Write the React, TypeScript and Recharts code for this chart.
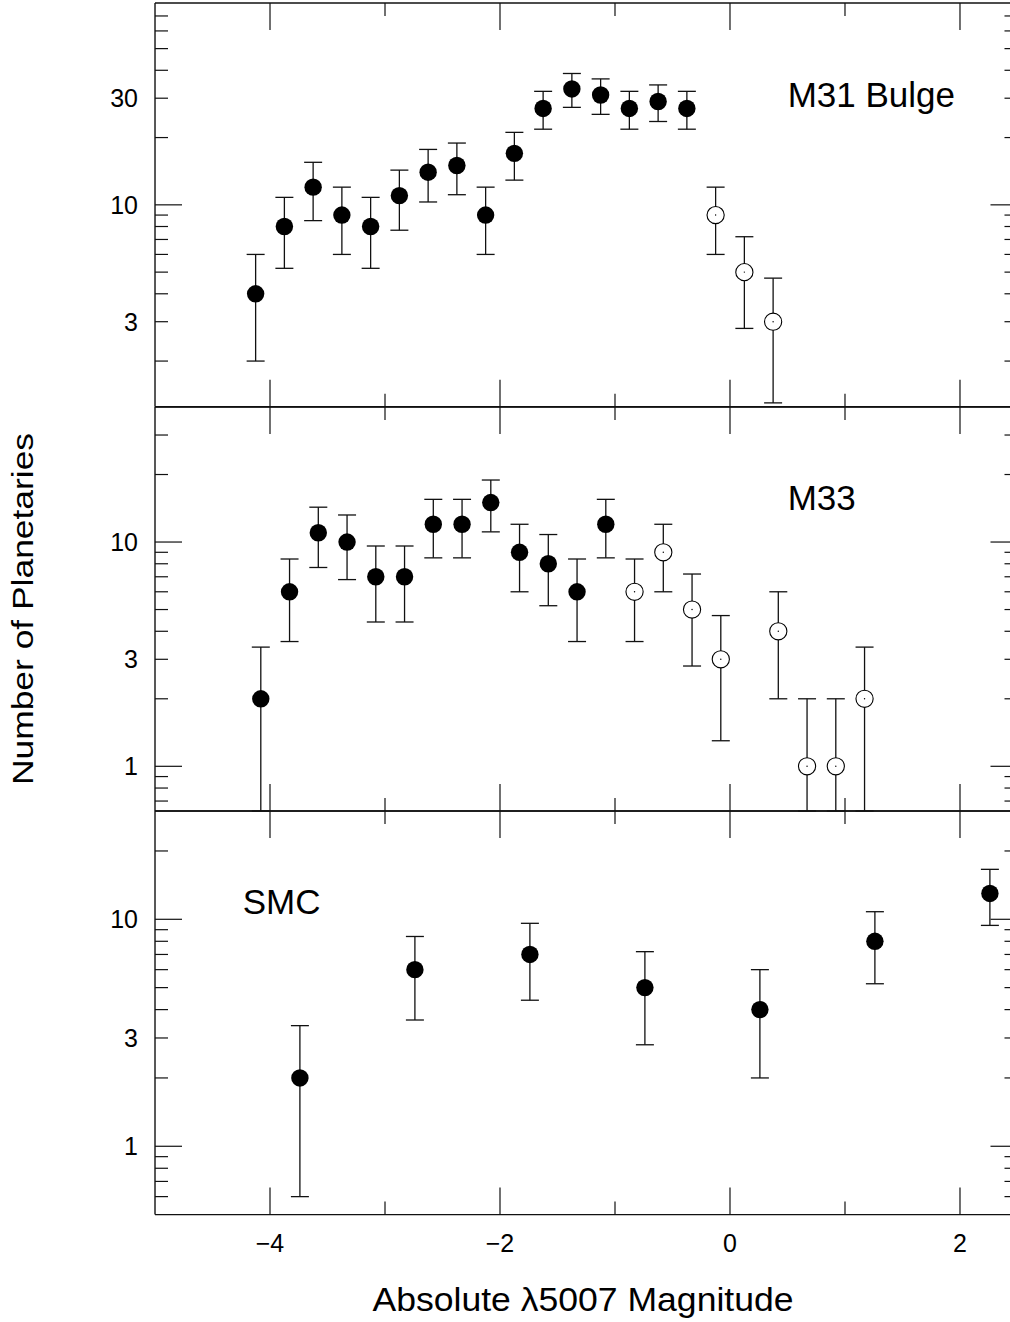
import { ScatterChart, Scatter, XAxis, YAxis, ErrorBar } from "recharts";

const FONT = '"Liberation Sans", Arial, Helvetica, sans-serif';
const INK = "#111";

// M31 bulge: bin centres (mag), counts, 1-sigma error, open = incomplete bins
const m31Mag = [-4.125, -3.875, -3.625, -3.375, -3.125, -2.875, -2.625, -2.375, -2.125, -1.875, -1.625, -1.375, -1.125, -0.875, -0.625, -0.375, -0.125, 0.125, 0.375];
const m31N = [4, 8, 12, 9, 8, 11, 14, 15, 9, 17, 27, 33, 31, 27, 29, 27, 9, 5, 3];
const m31Err = [2, 2.8, 3.5, 3, 2.8, 3.3, 3.7, 3.9, 3, 4.1, 5.2, 5.7, 5.6, 5.2, 5.4, 5.2, 3, 2.2, 1.7];
const m31Open = [0, 0, 0, 0, 0, 0, 0, 0, 0, 0, 0, 0, 0, 0, 0, 0, 1, 1, 1];

// M33
const m33Mag = [-4.08, -3.83, -3.58, -3.33, -3.08, -2.83, -2.58, -2.33, -2.08, -1.83, -1.58, -1.33, -1.08, -0.83, -0.58, -0.33, -0.08, 0.42, 0.67, 0.92, 1.17];
const m33N = [2, 6, 11, 10, 7, 7, 12, 12, 15, 9, 8, 6, 12, 6, 9, 5, 3, 4, 1, 1, 2];
const m33Err = [1.4, 2.4, 3.3, 3.2, 2.6, 2.6, 3.5, 3.5, 3.9, 3, 2.8, 2.4, 3.5, 2.4, 3, 2.2, 1.7, 2, 1, 1, 1.4];
const m33Open = [0, 0, 0, 0, 0, 0, 0, 0, 0, 0, 0, 0, 0, 1, 1, 1, 1, 1, 1, 1, 1];

// SMC
const smcMag = [-3.74, -2.74, -1.74, -0.74, 0.26, 1.26, 2.26];
const smcN = [2, 6, 7, 5, 4, 8, 13];
const smcErr = [1.4, 2.4, 2.6, 2.2, 2, 2.8, 3.6];
const smcOpen = [0, 0, 0, 0, 0, 0, 0];

const xDomain = [-5, 2.5];
const xTicks = [-4, -3, -2, -1, 0, 1, 2];
const xLabelTicks = [-4, -2, 0, 2];

const m31Domain = [1.25, 80];
const m31Ticks = [2, 3, 4, 5, 6, 7, 8, 9, 10, 20, 30, 40, 50, 60, 70];
const m31Labels = [3, 10, 30];

const m33Domain = [0.632, 40];
const m33Ticks = [0.7, 0.8, 0.9, 1, 2, 3, 4, 5, 6, 7, 8, 9, 10, 20, 30];
const m33Labels = [1, 3, 10];

const smcDomain = [0.5, 30];
const smcTicks = [0.6, 0.7, 0.8, 0.9, 1, 2, 3, 4, 5, 6, 7, 8, 9, 10, 20];
const smcLabels = [1, 3, 10];

type Row = { x: number; y: number; err: number[] };

function buildRows(mag: number[], n: number[], err: number[], open: number[], yMin: number, wantOpen: boolean): Row[] {
  const rows: Row[] = [];
  mag.forEach((m, i) => {
    if ((open[i] === 1) !== wantOpen) return;
    // keep the lower whisker inside the log axis
    const lo = Math.min(err[i], n[i] - yMin);
    rows.push({ x: m, y: n[i], err: [lo, err[i]] });
  });
  return rows;
}

const fmtX = (v: number) => (v < 0 ? `\u2212${-v}` : `${v}`);
const isDecade = (v: number) => Math.abs(Math.log10(v) - Math.round(Math.log10(v))) < 1e-6;

function xTick(side: "top" | "bottom", labels: boolean) {
  return (p: any) => {
    const v = p.payload.value;
    const len = v % 2 === 0 ? 27 : 13;
    const dir = side === "bottom" ? -1 : 1;
    return (
      <g>
        <line x1={p.x} y1={p.y} x2={p.x} y2={p.y + dir * len} stroke={INK} strokeWidth={1.2} />
        {labels && xLabelTicks.includes(v) && (
          <text x={p.x} y={p.y + 37} textAnchor="middle" fontSize={25} fontFamily={FONT} fill="#000">
            {fmtX(v)}
          </text>
        )}
      </g>
    );
  };
}

function yTick(side: "left" | "right", labels: number[]) {
  return (p: any) => {
    const v = p.payload.value;
    const len = isDecade(v) ? 27 : 13;
    const dir = side === "left" ? 1 : -1;
    return (
      <g>
        <line x1={p.x} y1={p.y} x2={p.x + dir * len} y2={p.y} stroke={INK} strokeWidth={1.2} />
        {side === "left" && labels.includes(v) && (
          <text x={p.x - 17} y={p.y + 9} textAnchor="end" fontSize={25} fontFamily={FONT} fill="#000">
            {v}
          </text>
        )}
      </g>
    );
  };
}

const FilledDot = (p: any) => <circle cx={p.cx} cy={p.cy} r={8.7} fill="#000" />;
const OpenDot = (p: any) => (
  <g>
    <circle cx={p.cx} cy={p.cy} r={8.6} fill="#fff" stroke="#000" strokeWidth={1.1} />
    <circle cx={p.cx} cy={p.cy} r={0.7} fill="#000" />
  </g>
);

type PanelProps = {
  top: number;
  plotH: number;
  mt: number;
  mb: number;
  domain: number[];
  ticks: number[];
  labels: number[];
  mag: number[];
  n: number[];
  err: number[];
  open: number[];
  xLabels: boolean;
};

// axes are 1px thick boxes (zero-size axes are not drawn), margins compensate
function Panel({ top, plotH, mt, mb, domain, ticks, labels, mag, n, err, open, xLabels }: PanelProps) {
  const filled = buildRows(mag, n, err, open, domain[0], false);
  const hollow = buildRows(mag, n, err, open, domain[0], true);
  const axisLine = { stroke: INK, strokeWidth: 1.4 };
  return (
    <div style={{ position: "absolute", left: 0, top }}>
      <ScatterChart width={1030} height={plotH + mt + mb} margin={{ top: mt - 1, bottom: mb - 1, left: 154, right: 11.5 }}>
        <XAxis xAxisId="b" orientation="bottom" type="number" dataKey="x" domain={xDomain} allowDataOverflow
          ticks={xTicks} interval={0} height={1} tickSize={0} tickMargin={0} tickLine={false}
          axisLine={axisLine} tick={xTick("bottom", xLabels)} />
        <XAxis xAxisId="t" orientation="top" type="number" dataKey="x" domain={xDomain} allowDataOverflow
          ticks={xTicks} interval={0} height={1} tickSize={0} tickMargin={0} tickLine={false}
          axisLine={axisLine} tick={xTick("top", false)} />
        <YAxis yAxisId="l" orientation="left" type="number" dataKey="y" scale="log" domain={domain} allowDataOverflow
          ticks={ticks} interval={0} width={1} tickSize={0} tickMargin={0} tickLine={false}
          axisLine={axisLine} tick={yTick("left", labels)} />
        <YAxis yAxisId="r" orientation="right" type="number" dataKey="y" scale="log" domain={domain} allowDataOverflow
          ticks={ticks} interval={0} width={1} tickSize={0} tickMargin={0} tickLine={false}
          axisLine={axisLine} tick={yTick("right", [])} />
        <Scatter data={filled} xAxisId="b" yAxisId="l" shape={FilledDot} isAnimationActive={false}>
          <ErrorBar dataKey="err" direction="y" width={9} stroke={INK} strokeWidth={1.3} isAnimationActive={false} />
        </Scatter>
        {hollow.length > 0 && (
          <Scatter data={hollow} xAxisId="b" yAxisId="l" shape={OpenDot} isAnimationActive={false}>
            <ErrorBar dataKey="err" direction="y" width={9} stroke={INK} strokeWidth={1.3} isAnimationActive={false} />
          </Scatter>
        )}
      </ScatterChart>
    </div>
  );
}

export default function App() {
  return (
    <div style={{ position: "absolute", left: 0, top: 0, width: 1010, height: 1322, overflow: "hidden", background: "#fff" }}>
      <Panel top={0} plotH={403.7} mt={3} mb={2} domain={m31Domain} ticks={m31Ticks} labels={m31Labels}
        mag={m31Mag} n={m31N} err={m31Err} open={m31Open} xLabels={false} />
      <Panel top={404.7} plotH={404} mt={2} mb={2} domain={m33Domain} ticks={m33Ticks} labels={m33Labels}
        mag={m33Mag} n={m33N} err={m33Err} open={m33Open} xLabels={false} />
      <Panel top={808.7} plotH={403.6} mt={2} mb={60} domain={smcDomain} ticks={smcTicks} labels={smcLabels}
        mag={smcMag} n={smcN} err={smcErr} open={smcOpen} xLabels={true} />
      <svg width={1010} height={1322} style={{ position: "absolute", left: 0, top: 0, pointerEvents: "none" }}>
        <g fontFamily={FONT} fill="#000">
          <text x={787.7} y={106.7} fontSize={35}>M31 Bulge</text>
          <text x={787.7} y={510} fontSize={35}>M33</text>
          <text x={242.7} y={914} fontSize={35}>SMC</text>
          <text x={583} y={1311} fontSize={33.5} textAnchor="middle" textLength={421} lengthAdjust="spacingAndGlyphs">
            Absolute λ5007 Magnitude
          </text>
          <text transform="translate(32.5,609) rotate(-90)" fontSize={29} textAnchor="middle" textLength={352}
            lengthAdjust="spacingAndGlyphs">
            Number of Planetaries
          </text>
        </g>
      </svg>
    </div>
  );
}
